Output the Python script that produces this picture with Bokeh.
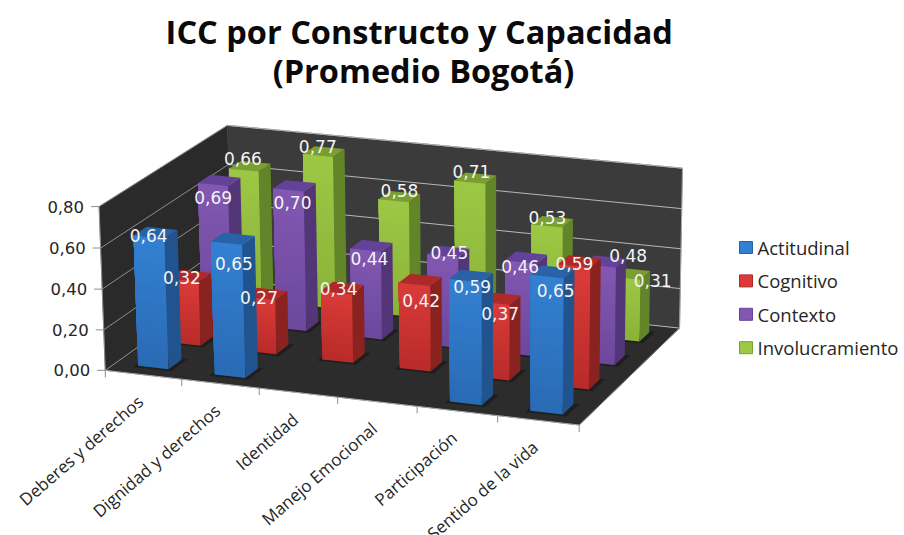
import numpy as np
from bokeh.plotting import figure
from bokeh.models import Range1d
from bokeh.core.properties import value
from bokeh.embed import file_html
from bokeh.resources import INLINE

TITLE = ["ICC  por Constructo y Capacidad", "(Promedio Bogotá)"]
CATEGORIES = ["Deberes y derechos", "Dignidad y derechos", "Identidad",
              "Manejo Emocional", "Participación", "Sentido de la vida"]
SERIES = ["Actitudinal", "Cognitivo", "Contexto", "Involucramiento"]
ACTITUDINAL = [0.64, 0.65, None, None, 0.59, 0.65]
COGNITIVO = [0.32, 0.27, 0.34, 0.42, 0.37, 0.59]
CONTEXTO = [0.69, 0.70, 0.44, 0.45, 0.46, 0.48]
INVOLUCRAMIENTO = [0.66, 0.77, 0.58, 0.71, 0.53, 0.31]
VALUE_TICKS = [0.0, 0.2, 0.4, 0.6, 0.8]
VALUES = [ACTITUDINAL, COGNITIVO, CONTEXTO, INVOLUCRAMIENTO]

# Face colours per series: front top, front bottom, side, top
PALETTE = [("#3380d2", "#2a6ab4", "#21548e", "#2763a6"),
           ("#da3b38", "#b82b2a", "#8a2220", "#ad2a28"),
           ("#8257b2", "#6c489c", "#523677", "#64429a"),
           ("#9cc845", "#8bb238", "#628529", "#789f30")]

# Camera calibration: world (category, series, value) -> reference pixel
CAL = [((0, 0, 0), (105, 368)), ((1, 0, 0), (180, 380)), ((3, 0, 0), (337, 397)),
       ((5, 0, 0), (498, 417)), ((6, 0, 0), (580, 423)), ((6, 4, 0), (678, 326)),
       ((0, 4, 0), (231, 285)), ((0, 0, .8), (99, 205)), ((0, 0, .6), (100, 247)),
       ((0, 0, .4), (102, 287)), ((0, 0, .2), (103, 327)), ((0, 4, .8), (227, 125)),
       ((6, 4, .8), (683, 167)), ((6, 4, .6), (682, 207)), ((6, 4, .4), (680, 247)),
       ((6, 4, .2), (679, 287)), ((6, 0, .8), (575, 259)), ((5.5, .3, .65), (551, 278))]
A, b = [], []
for (u, v, w), (x, y) in CAL:
    A.append([u, v, w, 1, 0, 0, 0, 0, -x*u, -x*v, -x*w]); b.append(x)
    A.append([0, 0, 0, 0, u, v, w, 1, -y*u, -y*v, -y*w]); b.append(y)
M = np.linalg.lstsq(np.array(A, float), np.array(b, float), rcond=None)[0]


def proj(u, v, w):
    d = M[8]*u + M[9]*v + M[10]*w + 1
    return ((M[0]*u + M[1]*v + M[2]*w + M[3]) / d,
            (M[4]*u + M[5]*v + M[6]*w + M[7]) / d)


def mix(c1, c2, t):
    a = [int(c1[i:i+2], 16) for i in (1, 3, 5)]
    c = [int(c2[i:i+2], 16) for i in (1, 3, 5)]
    return "#%02x%02x%02x" % tuple(round(a[k] + (c[k]-a[k])*t) for k in range(3))


xs, ys, fills = [], [], []


def poly(points, color):
    pts = [proj(*q) for q in points]
    xs.append([q[0] for q in pts])
    ys.append([q[1] for q in pts])
    fills.append(color)


TOP = VALUE_TICKS[-1]
poly([(0, 0, 0), (0, 4, 0), (0, 4, TOP), (0, 0, TOP)], "#2a2a2a")
poly([(0, 4, 0), (6, 4, 0), (6, 4, TOP), (0, 4, TOP)], "#3b3b3b")
poly([(0, 0, 0), (6, 0, 0), (6, 4, 0), (0, 4, 0)], "#2c2c2c")

p = figure(width=904, height=535, x_range=Range1d(0, 904), y_range=Range1d(535, 0),
           output_backend="svg", toolbar_location=None, min_border=0,
           background_fill_color="white", border_fill_color="white",
           outline_line_color=None)
p.axis.visible = False
p.grid.visible = False

p.patches(xs, ys, fill_color=fills, line_color=fills, line_width=0.5)


def seg(a, b, color="#b8b8b8", width=1.0):
    pa, pb = proj(*a), proj(*b)
    p.line([pa[0], pb[0]], [pa[1], pb[1]], line_color=color, line_width=width)


for t in VALUE_TICKS:
    seg((0, 0, t), (0, 4, t), "#8e8e8e")
    seg((0, 4, t), (6, 4, t))
    q = proj(0, 0, t)
    p.line([q[0]-8, q[0]], [q[1], q[1]], line_color="#8c8c8c", line_width=1)
    p.text([q[0]-15], [q[1]], text=[("%.2f" % t).replace(".", ",")],
           text_font=value("DejaVu Sans"), text_font_size="16.5px", text_color="#262626",
           text_align="right", text_baseline="middle")
seg((0, 0, 0), (0, 0, TOP), "#8c8c8c")
seg((0, 0, 0), (6, 0, 0), "#a8a8a8")
seg((6, 0, 0), (6, 4, 0), "#8c8c8c")
seg((6, 4, 0), (6, 4, TOP), "#a8a8a8")
seg((0, 4, TOP), (6, 4, TOP), "#a8a8a8")
for i in range(7):
    q = proj(i, 0, 0)
    p.line([q[0], q[0]], [q[1], q[1]+7], line_color="#8c8c8c", line_width=1)

# bars, from back to front
xs, ys, fills = [], [], []
U0, U1, V0, V1 = 0.3, 0.7, 0.3, 0.7
STRIPS = 16
for j in range(3, -1, -1):
    front_top, front_bot, side, top = PALETTE[j]
    for i in range(6):
        val = VALUES[j][i]
        if val is None:
            continue
        u0, u1, v0, v1 = i+U0, i+U1, j+V0, j+V1
        poly([(u0-.04, v0-.06, 0), (u1+.06, v0-.06, 0), (u1+.06, v1+.04, 0), (u0-.04, v1+.04, 0)], "#1e1e1e")
        # painted bottom-up, each strip reaching the bar top, so no seams show
        for s in range(STRIPS):
            w0 = val*s/STRIPS
            poly([(u0, v0, w0), (u1, v0, w0), (u1, v0, val), (u0, v0, val)],
                 mix(front_bot, front_top, (s+.5)/STRIPS))
        poly([(u1, v0, 0), (u1, v1, 0), (u1, v1, val), (u1, v0, val)], side)
        poly([(u0, v0, val), (u1, v0, val), (u1, v1, val), (u0, v1, val)], top)
p.patches(xs, ys, fill_color=fills, line_color=None)

# value labels: per-bar nudge off the bar top, as the original chart placed them
LABEL_DX = [[-7, 1, 0, 0, 1, 3], [-8, -7, -4, 1, 1, -5],
            [-6, -2, -2, 1, -6, 23], [-7, -6, 0, -4, -5, 23]]
LABEL_DY = [[3, 25, 0, 0, 11, 19], [2, 4, 1, 21, 15, 2],
            [17, 17, 13, 1, 9, -6], [-8, -5, -6, -7, -4, 7]]
lx, ly, lt = [], [], []
for j in range(4):
    for i in range(6):
        val = VALUES[j][i]
        if val is None:
            continue
        q = proj(i+.5, j+.5, val)
        lx.append(q[0]+LABEL_DX[j][i]); ly.append(q[1]+LABEL_DY[j][i])
        lt.append(("%.2f" % val).replace(".", ","))
p.text(lx, ly, text=lt, text_font=value("DejaVu Sans"), text_font_size="17px",
       text_color="#f4f4f4", text_align="center", text_baseline="middle")

# category labels
for i, c in enumerate(CATEGORIES):
    q = proj(i+.5, 0, 0)
    p.text([q[0]-3], [q[1]+24], text=[c], text_font=value("Open Sans"), text_font_size="17px",
           text_color="#262626", text_align="right", text_baseline="middle", angle=41,
           angle_units="deg")

# title
p.text([423, 423], [31, 70], text=TITLE, text_font=value("Open Sans"), text_font_size="32.5px",
       text_font_style="bold", text_color="#0a0a0a", text_align="center", text_baseline="middle")

# legend
for k, s in enumerate(SERIES):
    yc = 247 + k*33.4
    p.rect([745.5], [yc], width=13, height=12, fill_color=PALETTE[k][0],
           line_color=PALETTE[k][3], line_width=1)
    p.text([757], [yc], text=[s], text_font=value("Open Sans"), text_font_size="18.5px",
           text_color="#262626", text_align="left", text_baseline="middle")

open("out.html", "w").write(file_html(p, INLINE))
